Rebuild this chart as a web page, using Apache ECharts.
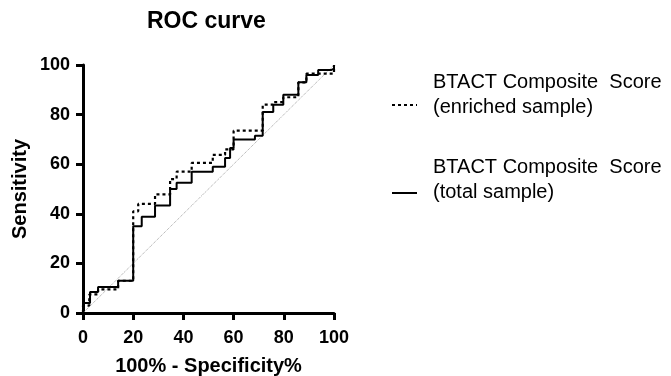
<!DOCTYPE html>
<html>
<head>
<meta charset="utf-8">
<script src="https://cdn.jsdelivr.net/npm/echarts@6/dist/echarts.min.js"></script>
<style>
  html, body { margin: 0; padding: 0; background: #fff; }
  #chart { width: 671px; height: 376px; }
</style>
</head>
<body>
<div id="chart"></div>
<script>
// ROC staircase corners: at each x the curve rises to y
const totalX = [0, 0, 2.8, 6, 14, 20, 23.4, 28.7, 34.7, 37.3, 43.3, 51.7, 56.6, 58.6, 60, 68.5, 71.6, 75.8, 79.8, 85.8, 89, 93.7, 99, 100];
const totalY = [0, 4, 8.5, 10.5, 13, 35, 38.8, 43.3, 50, 52.5, 57, 59, 62.5, 66.5, 70, 71.5, 81, 84, 88, 93, 96, 98, 98.5, 100];

const enrichedX = [0, 0, 2.5, 6, 14, 20, 22, 28.7, 34.7, 37.3, 43.3, 51.7, 56.6, 60, 71.6, 75.8, 79.8, 85.8, 89, 100];
const enrichedY = [0, 3, 7.5, 9.5, 13, 41, 44, 47.8, 54, 57, 60.5, 63.8, 66, 73.5, 84, 85, 87, 93, 96.5, 100];

const chanceX = [0, 100];
const chanceY = [0, 100];

const axisTicks = [0, 20, 40, 60, 80, 100];

const legendNames = [
  'BTACT Composite  Score\n(enriched sample)',
  'BTACT Composite  Score\n(total sample)'
];

const zip = (xs, ys) => xs.map((x, i) => [x, ys[i]]);

const chart = echarts.init(document.getElementById('chart'));
const font = '"Liberation Sans", Arial, sans-serif';

const axisCommon = {
  type: 'value',
  min: axisTicks[0],
  max: axisTicks[axisTicks.length - 1],
  interval: 20,
  splitLine: { show: false },
  axisLine: { lineStyle: { color: '#000', width: 3 } },
  axisTick: { inside: false, length: 7, lineStyle: { color: '#000', width: 3 } },
  axisLabel: { color: '#000', fontSize: 18, fontWeight: 'bold', fontFamily: font },
  nameLocation: 'middle',
  nameTextStyle: { color: '#000', fontSize: 20, fontWeight: 'bold', fontFamily: font }
};

chart.setOption({
  animation: false,
  title: {
    text: 'ROC curve',
    left: 147,
    top: 10,
    padding: 0,
    textStyle: { color: '#000', fontSize: 23, fontWeight: 'bold', fontFamily: font }
  },
  grid: { left: 83, right: 337, top: 65, bottom: 63, containLabel: false, outerBoundsMode: 'none' },
  xAxis: Object.assign({}, axisCommon, {
    name: '100% - Specificity%',
    nameGap: 43,
    axisLabel: Object.assign({}, axisCommon.axisLabel, { margin: 16 })
  }),
  yAxis: Object.assign({}, axisCommon, {
    name: 'Sensitivity',
    nameGap: 53,
    axisLabel: Object.assign({}, axisCommon.axisLabel, { margin: 13 })
  }),
  series: [
    {
      name: 'chance',
      type: 'line',
      data: zip(chanceX, chanceY),
      showSymbol: false,
      lineStyle: { color: '#a0a0a0', width: 1, type: 'dotted' },
      z: 1
    },
    {
      name: legendNames[1],
      type: 'line',
      step: 'end',
      data: zip(totalX, totalY),
      showSymbol: false,
      lineStyle: { color: '#000', width: 2 },
      z: 3
    },
    {
      name: legendNames[0],
      type: 'line',
      step: 'end',
      data: zip(enrichedX, enrichedY),
      showSymbol: false,
      lineStyle: { color: '#000', width: 2.2, type: [3, 3] },
      z: 2
    }
  ],
  graphic: [
    {
      type: 'line',
      shape: { x1: 392, y1: 105, x2: 417, y2: 105 },
      style: { stroke: '#000', lineWidth: 2, lineDash: [3, 3] }
    },
    {
      type: 'text',
      x: 433,
      y: 70,
      style: { text: legendNames[0], font: '20px ' + font, fill: '#000', lineHeight: 25 }
    },
    {
      type: 'line',
      shape: { x1: 392, y1: 193, x2: 417, y2: 193 },
      style: { stroke: '#000', lineWidth: 2 }
    },
    {
      type: 'text',
      x: 433,
      y: 155,
      style: { text: legendNames[1], font: '20px ' + font, fill: '#000', lineHeight: 25 }
    }
  ]
});
</script>
</body>
</html>
